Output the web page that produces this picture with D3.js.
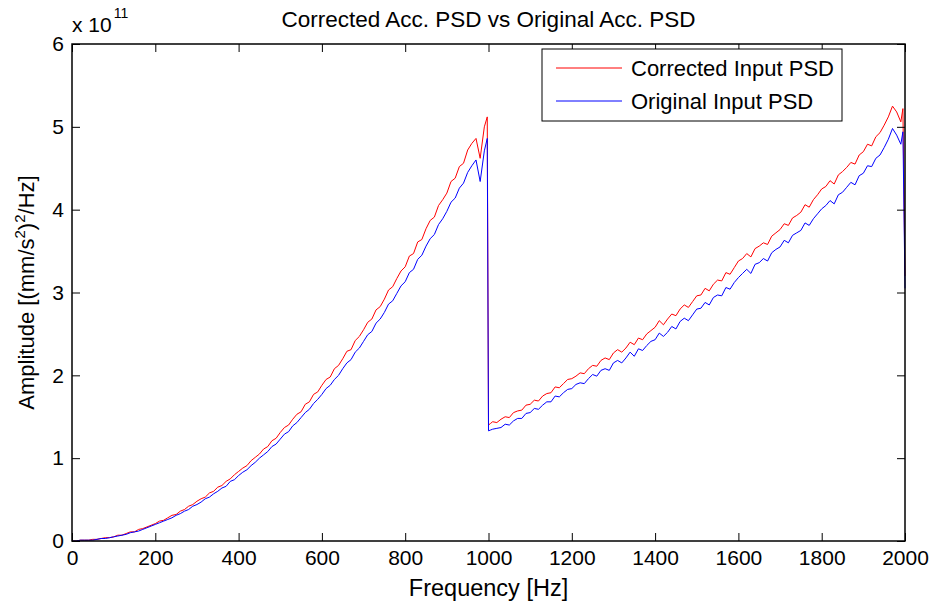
<!DOCTYPE html>
<html>
<head>
<meta charset="utf-8">
<script src="https://cdn.jsdelivr.net/npm/d3@7"></script>
<style>
  body { margin: 0; background: #fff; }
  svg { font-family: "Liberation Sans", Arial, Helvetica, sans-serif; }
  .tick line { stroke: #000; }
  .tick text { fill: #000; font-size: 21px; }
</style>
</head>
<body>
<div id="chart"></div>
<script>
// frequency grid [Hz]
var freqs = [
  0,10,20,30,40,50,60,70,80,90,100,110,120,130,140,150,160,170,180,190,
  200,210,220,230,240,250,260,270,280,290,300,310,320,330,340,350,360,370,380,390,
  400,410,420,430,440,450,460,470,480,490,500,510,520,530,540,550,560,570,580,590,
  600,610,620,630,640,650,660,670,680,690,700,710,720,730,740,750,760,770,780,790,
  800,810,820,830,840,850,860,870,880,890,900,910,920,930,940,950,960,970,980,990,
  997,1000,1005,
  1010,1020,1030,1040,1050,1060,1070,1080,1090,
  1100,1110,1120,1130,1140,1150,1160,1170,1180,1190,
  1200,1210,1220,1230,1240,1250,1260,1270,1280,1290,
  1300,1310,1320,1330,1340,1350,1360,1370,1380,1390,
  1400,1410,1420,1430,1440,1450,1460,1470,1480,1490,
  1500,1510,1520,1530,1540,1550,1560,1570,1580,1590,
  1600,1610,1620,1630,1640,1650,1660,1670,1680,1690,
  1700,1710,1720,1730,1740,1750,1760,1770,1780,1790,
  1800,1810,1820,1830,1840,1850,1860,1870,1880,1890,
  1900,1910,1920,1930,1940,1950,1960,1970,1980,1990,
  1995,2000
];

// corrected input PSD, units of 1e11 (mm/s^2)^2/Hz
var corrected = [
  0.00,0.00,0.01,0.01,0.01,0.02,0.02,0.03,0.04,0.04,
  0.05,0.07,0.07,0.09,0.11,0.11,0.14,0.15,0.17,0.19,
  0.21,0.24,0.25,0.28,0.31,0.32,0.36,0.38,0.42,0.44,
  0.48,0.51,0.53,0.58,0.60,0.65,0.67,0.72,0.75,0.80,
  0.84,0.88,0.91,0.97,1.01,1.05,1.11,1.14,1.21,1.24,
  1.31,1.37,1.40,1.47,1.53,1.56,1.65,1.68,1.77,1.80,
  1.88,1.95,1.98,2.08,2.12,2.20,2.29,2.31,2.42,2.47,
  2.55,2.64,2.68,2.79,2.83,2.92,3.03,3.07,3.17,3.26,
  3.31,3.44,3.47,3.61,3.64,3.77,3.87,3.91,4.05,4.12,
  4.20,4.34,4.38,4.52,4.56,4.72,4.80,4.86,4.62,5.00,
  5.12,1.40,1.42,
  1.44,1.43,1.47,1.50,1.49,1.55,1.57,1.58,1.64,
  1.65,1.70,1.69,1.75,1.78,1.79,1.86,1.85,1.90,1.95,
  1.96,1.99,2.03,2.02,2.08,2.12,2.11,2.18,2.21,2.19,
  2.27,2.31,2.28,2.33,2.40,2.37,2.45,2.43,2.50,2.54,
  2.58,2.66,2.61,2.68,2.74,2.72,2.80,2.85,2.82,2.89,
  2.96,2.97,3.05,3.02,3.10,3.15,3.14,3.24,3.22,3.30,
  3.38,3.41,3.47,3.43,3.53,3.56,3.60,3.58,3.68,3.72,
  3.76,3.83,3.81,3.90,3.93,3.97,4.06,4.03,4.12,4.18,
  4.25,4.28,4.35,4.31,4.42,4.46,4.51,4.57,4.55,4.66,
  4.70,4.79,4.77,4.88,4.93,5.02,5.12,5.25,5.18,5.06,
  5.22,3.20
];

// original input PSD, units of 1e11 (mm/s^2)^2/Hz
var original = [
  0.00,0.00,0.01,0.01,0.01,0.01,0.02,0.03,0.03,0.04,
  0.05,0.06,0.07,0.08,0.10,0.11,0.12,0.14,0.16,0.18,
  0.20,0.22,0.24,0.26,0.28,0.31,0.33,0.36,0.38,0.42,
  0.44,0.47,0.51,0.53,0.57,0.60,0.64,0.66,0.72,0.74,
  0.79,0.83,0.86,0.91,0.95,1.00,1.04,1.08,1.14,1.17,
  1.23,1.29,1.32,1.39,1.43,1.49,1.55,1.59,1.66,1.71,
  1.77,1.84,1.88,1.95,2.00,2.08,2.15,2.19,2.28,2.33,
  2.41,2.49,2.53,2.63,2.68,2.76,2.86,2.90,2.99,3.08,
  3.13,3.24,3.28,3.40,3.45,3.56,3.65,3.70,3.82,3.89,
  3.98,4.09,4.14,4.26,4.32,4.45,4.53,4.60,4.34,4.71,
  4.86,1.33,1.34,
  1.35,1.36,1.37,1.41,1.40,1.45,1.48,1.48,1.54,
  1.55,1.60,1.59,1.64,1.68,1.68,1.75,1.74,1.79,1.83,
  1.84,1.89,1.91,1.90,1.96,2.01,1.99,2.06,2.08,2.06,
  2.15,2.18,2.15,2.21,2.28,2.23,2.32,2.30,2.36,2.41,
  2.43,2.51,2.47,2.52,2.59,2.56,2.65,2.69,2.66,2.73,
  2.80,2.81,2.88,2.85,2.94,2.97,2.96,3.06,3.04,3.12,
  3.18,3.23,3.28,3.23,3.34,3.36,3.41,3.38,3.48,3.52,
  3.55,3.63,3.60,3.69,3.72,3.75,3.84,3.81,3.89,3.95,
  4.01,4.05,4.11,4.07,4.18,4.21,4.27,4.33,4.30,4.41,
  4.44,4.53,4.52,4.62,4.66,4.75,4.85,4.98,4.90,4.79,
  4.94,3.05
];

var xTicks = [0, 200, 400, 600, 800, 1000, 1200, 1400, 1600, 1800, 2000];
var yTicks = [0, 1, 2, 3, 4, 5, 6];
var seriesNames = ["Corrected Input PSD", "Original Input PSD"];
var seriesColors = ["#ff0000", "#0000ff"];

var width = 935, height = 605;
// plot box edges
var boxL = 72, boxR = 905, boxT = 44, boxB = 541;

var svg = d3.select("#chart").append("svg")
  .attr("width", width)
  .attr("height", height);

var x = d3.scaleLinear().domain([0, 2000]).range([boxL, boxR]);
var y = d3.scaleLinear().domain([0, 6]).range([boxB, boxT]);

// lines
var line = d3.line()
  .x(function(d) { return x(d[0]); })
  .y(function(d) { return y(d[1]); });

[corrected, original].forEach(function(vals, i) {
  svg.append("path")
    .datum(freqs.map(function(f, j) { return [f, vals[j]]; }))
    .attr("fill", "none")
    .attr("stroke", seriesColors[i])
    .attr("stroke-width", 1)
    .attr("d", line);
});

// axes, ticks pointing inward like MATLAB
svg.append("g")
  .attr("transform", "translate(0," + boxB + ")")
  .call(d3.axisBottom(x).tickValues(xTicks).tickSize(-8).tickSizeOuter(0).tickPadding(9).tickFormat(d3.format("d")))
  .call(function(g) { g.select(".domain").remove(); });

svg.append("g")
  .attr("transform", "translate(0," + boxT + ")")
  .call(d3.axisTop(x).tickValues(xTicks).tickSize(-8).tickSizeOuter(0).tickFormat(""))
  .call(function(g) { g.select(".domain").remove(); });

svg.append("g")
  .attr("transform", "translate(" + boxL + ",0)")
  .call(d3.axisLeft(y).tickValues(yTicks).tickSize(-8).tickSizeOuter(0).tickPadding(8).tickFormat(d3.format("d")))
  .call(function(g) { g.select(".domain").remove(); });

svg.append("g")
  .attr("transform", "translate(" + boxR + ",0)")
  .call(d3.axisRight(y).tickValues(yTicks).tickSize(-8).tickSizeOuter(0).tickFormat(""))
  .call(function(g) { g.select(".domain").remove(); });

svg.selectAll(".tick text").attr("font-family", null).attr("font-size", null);

// box
svg.append("rect")
  .attr("x", boxL).attr("y", boxT)
  .attr("width", boxR - boxL).attr("height", boxB - boxT)
  .attr("fill", "none")
  .attr("stroke", "#000")
  .attr("stroke-width", 1.5);

// exponent label
var expo = svg.append("text")
  .attr("x", boxL)
  .attr("y", 32)
  .attr("font-size", 21)
  .text("x 10");
expo.append("tspan")
  .attr("font-size", 14)
  .attr("dy", -14)
  .attr("dx", 2)
  .text("11");

// title
svg.append("text")
  .attr("x", (boxL + boxR) / 2)
  .attr("y", 27)
  .attr("text-anchor", "middle")
  .attr("font-size", 22.5)
  .text("Corrected Acc. PSD vs Original Acc. PSD");

// x label
svg.append("text")
  .attr("x", (boxL + boxR) / 2)
  .attr("y", 596)
  .attr("text-anchor", "middle")
  .attr("font-size", 23.5)
  .text("Frequency [Hz]");

// y label
var yl = svg.append("text")
  .attr("transform", "translate(34," + ((boxT + boxB) / 2) + ")rotate(-90)")
  .attr("text-anchor", "middle")
  .attr("font-size", 22);
yl.append("tspan").text("Amplitude [(mm/s");
yl.append("tspan").attr("font-size", 15).attr("dy", -9).text("2");
yl.append("tspan").attr("dy", 9).text(")");
yl.append("tspan").attr("font-size", 15).attr("dy", -9).text("2");
yl.append("tspan").attr("dy", 9).text("/Hz]");

// legend
var legend = svg.append("g");
legend.append("rect")
  .attr("x", 542).attr("y", 49)
  .attr("width", 300).attr("height", 72)
  .attr("fill", "#fff")
  .attr("stroke", "#000")
  .attr("stroke-width", 1);

seriesNames.forEach(function(name, i) {
  var ly = 68 + i * 33;
  legend.append("line")
    .attr("x1", 556).attr("x2", 622)
    .attr("y1", ly).attr("y2", ly)
    .attr("stroke", seriesColors[i])
    .attr("stroke-width", 1);
  legend.append("text")
    .attr("x", 631)
    .attr("y", ly + 8)
    .attr("font-size", 22)
    .text(name);
});
</script>
</body>
</html>
